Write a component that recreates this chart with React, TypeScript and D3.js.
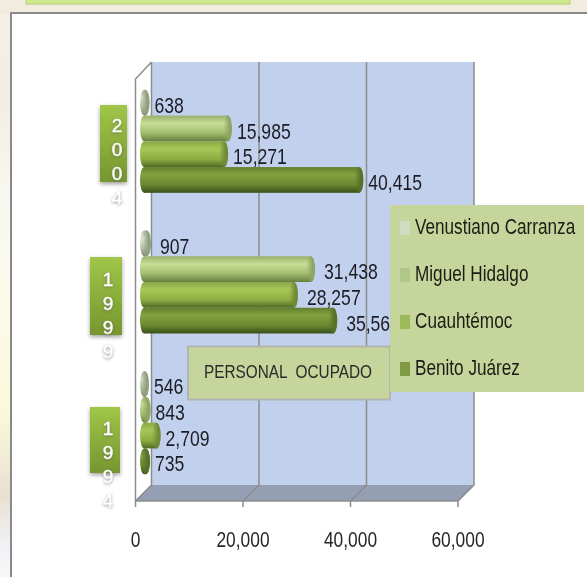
import React from "react";
import * as d3 from "d3";

const years = ["2004", "1999", "1994"];
const seriesNames = ["Venustiano Carranza", "Miguel Hidalgo", "Cuauhtémoc", "Benito Juárez"];
const values2004 = [638, 15985, 15271, 40415];
const values1999 = [907, 31438, 28257, 35561];
const values1994 = [546, 843, 2709, 735];
const tickValues = [0, 20000, 40000, 60000];
const rows = [values2004, values1999, values1994];

const W = 587, H = 577;
const FONT = "'Liberation Sans',sans-serif";

const x = d3.scaleLinear().domain([0, 60000]).range([135.5, 458]);
const y0 = d3.scaleBand<string>().domain(years).range([71, 493]).paddingInner(0.268).paddingOuter(0.134);
const y1 = d3.scaleBand<string>().domain(seriesNames).range([0, y0.bandwidth()]);
const depth = 16;
const floorY = 501;
const wallTop = 62;
const rx = 4.3;
const labelDx = [5, 9, 5];

const grads = [
  [["0", "#aebba0"], ["0.3", "#e0e8d5"], ["0.65", "#bac7a8"], ["1", "#7d8c6c"]],
  [["0", "#98b06c"], ["0.3", "#c6de96"], ["0.65", "#a6c072"], ["1", "#64803f"]],
  [["0", "#8aa746"], ["0.3", "#a6c856"], ["0.7", "#8cab42"], ["1", "#4e6a24"]],
  [["0", "#62802e"], ["0.3", "#84a23e"], ["0.7", "#688630"], ["1", "#384f17"]],
];
const capColors = ["#8f9f80", "#8ea565", "#6f8a38", "#55722a"];
const swatches = ["#cfdcbf", "#b0c787", "#9cba5a", "#7f9a42"];

const boxes = [
  { x: 100, w: 27, top: 105, bottom: 182, tx: 117 },
  { x: 90, w: 32, top: 257, bottom: 335, tx: 108 },
  { x: 90, w: 30, top: 407, bottom: 473, tx: 108 },
];
const digitTop = [127, 281, 430];
const legendY = d3.scalePoint<string>().domain(seriesNames).range([228, 369]);

function Squeezed({ x: px, y: py, sx, anchor, size, fill, children }: any) {
  return (
    <text transform={`translate(${px},${py}) scale(${sx},1)`} textAnchor={anchor} dominantBaseline="middle"
      fontFamily={FONT} fontSize={size} fill={fill}>
      {children}
    </text>
  );
}

export default function App() {
  const fmt = d3.format(",");
  return (
    <svg width={W} height={H} viewBox={`0 0 ${W} ${H}`} style={{ position: "fixed", left: 0, top: 0, display: "block" }}>
      <defs>
        {grads.map((g, i) => (
          <linearGradient key={i} id={`cyl${i}`} x1="0" y1="0" x2="0" y2="1">
            {g.map(([o, c]) => <stop key={o} offset={o} stopColor={c} />)}
          </linearGradient>
        ))}
        {capColors.map((c, i) => (
          <linearGradient key={i} id={`cap${i}`} x1="0" y1="0" x2="1" y2="0">
            <stop offset="0.1" stopColor={c} stopOpacity={0.15} />
            <stop offset="0.7" stopColor={c} stopOpacity={1} />
          </linearGradient>
        ))}
        <linearGradient id="side" x1="0" y1="0" x2="0" y2="1">
          <stop offset="0" stopColor="#f4f0e6" />
          <stop offset="0.18" stopColor="#f2eee4" />
          <stop offset="0.35" stopColor="#f9f8f0" />
          <stop offset="0.55" stopColor="#fbfae8" />
          <stop offset="0.72" stopColor="#fbf8da" />
          <stop offset="0.86" stopColor="#e8e0d2" />
          <stop offset="0.95" stopColor="#f2f2f6" />
          <stop offset="1" stopColor="#f8f8fb" />
        </linearGradient>
        <linearGradient id="box" x1="0" y1="0" x2="0" y2="1">
          <stop offset="0" stopColor="#a0c648" />
          <stop offset="1" stopColor="#76962f" />
        </linearGradient>
        <filter id="soft" x="0" y="0" width="100%" height="100%"><feGaussianBlur stdDeviation="0.45" /></filter>
      </defs>

      <g filter="url(#soft)">
        <rect width={W} height={H} fill="url(#side)" />
        <rect width={W} height={14} fill="#f1ecdd" />
        <rect x={26} y={-2} width={544} height={6} fill="#cfe98f" stroke="#b4cf74" />
        <rect x={11} y={13} width={W + 10} height={H} fill="#fff" stroke="#8a8a8a" strokeWidth={2} />

        {/* walls */}
        <rect x={x(0) + depth} y={wallTop} width={x(60000) - x(0)} height={floorY - depth - wallTop} fill="#c1d1ed" />
        <path d={`M${x(0)},${floorY} L${x(60000)},${floorY} L${x(60000) + depth},${floorY - depth} L${x(0) + depth},${floorY - depth} Z`} fill="#949fb3" />
        {tickValues.map((t) => (
          <path key={t} stroke="#8c8c8c" strokeWidth={1.5} fill="none"
            d={`M${x(t)},${floorY + 6} L${x(t)},${floorY} L${x(t) + depth},${floorY - depth} L${x(t) + depth},${wallTop}`} />
        ))}
        <path d={`M${x(0)},${floorY} L${x(0)},${wallTop + depth + 1} L${x(0) + depth},${wallTop}`} fill="none" stroke="#8c8c8c" strokeWidth={1.5} />
        <path d={`M${x(0)},${floorY} L${x(60000)},${floorY}`} stroke="#8c8c8c" strokeWidth={1.5} />

        {/* bars */}
        {years.map((yr, yi) =>
          seriesNames.map((s, si) => {
            const v = rows[yi][si];
            const top = y0(yr)! + y1(s)!;
            const h = y1.bandwidth();
            const start = x(0) + 8.8;
            const end = x(v) + 6.3;
            return (
              <g key={yr + s}>
                <ellipse cx={start} cy={top + h / 2} rx={rx} ry={h / 2} fill={`url(#cyl${si})`} />
                <rect x={start} y={top} width={Math.max(end - start, 0)} height={h} fill={`url(#cyl${si})`} />
                <ellipse cx={end} cy={top + h / 2} rx={rx} ry={h / 2} fill={`url(#cyl${si})`} />
                <ellipse cx={end} cy={top + h / 2} rx={rx} ry={h / 2} fill={`url(#cap${si})`} />
              </g>
            );
          })
        )}

        {/* value labels */}
        {years.map((yr, yi) =>
          seriesNames.map((s, si) => {
            const v = rows[yi][si];
            return (
              <Squeezed key={yr + s} x={x(v) + 10.5 + labelDx[yi]} y={y0(yr)! + y1(s)! + y1.bandwidth() / 2 + 4.3}
                sx={0.8} size={22} fill="#1c1c24">
                {fmt(v)}
              </Squeezed>
            );
          })
        )}

        {/* axis labels */}
        {tickValues.map((t) => (
          <Squeezed key={t} x={x(t)} y={541} sx={0.79} anchor="middle" size={22} fill="#262626">
            {fmt(t)}
          </Squeezed>
        ))}

        {/* year labels */}
        {years.map((yr, yi) => {
          const b = boxes[yi];
          return (
            <g key={yr}>
              <rect x={b.x} y={b.top} width={b.w} height={b.bottom - b.top} fill="url(#box)" style={{ filter: "drop-shadow(0 2px 2px rgba(80,80,80,0.55))" }} />
              {yr.split("").map((d, i) => (
                <text key={i} x={b.tx} y={digitTop[yi] + i * 24} textAnchor="middle" dominantBaseline="middle"
                  fontFamily={FONT} fontSize={19} fill="#fff" stroke="#fff" strokeWidth={0.4}
                  style={{ filter: "drop-shadow(0 1px 1.5px rgba(90,90,90,0.6))" }}>
                  {d}
                </text>
              ))}
            </g>
          );
        })}

        {/* title box */}
        <rect x={188} y={346.5} width={202} height={53} fill="#c5d59b" stroke="#b4b4b0" strokeWidth={2} />
        <text x={204} y={373} dominantBaseline="middle" fontFamily={FONT} fontSize={18} fill="#2a2a2a" textLength={168} lengthAdjust="spacingAndGlyphs" xmlSpace="preserve">
          PERSONAL  OCUPADO
        </text>

        {/* legend */}
        <rect x={390} y={205} width={194} height={187} fill="#c5d59b" />
        {seriesNames.map((s, i) => (
          <g key={s}>
            <rect x={400} y={legendY(s)! - 7} width={10} height={14} fill={swatches[i]} />
            <Squeezed x={415} y={legendY(s)!} sx={0.78} size={22} fill="#1c1c14">{s}</Squeezed>
          </g>
        ))}
      </g>
    </svg>
  );
}
